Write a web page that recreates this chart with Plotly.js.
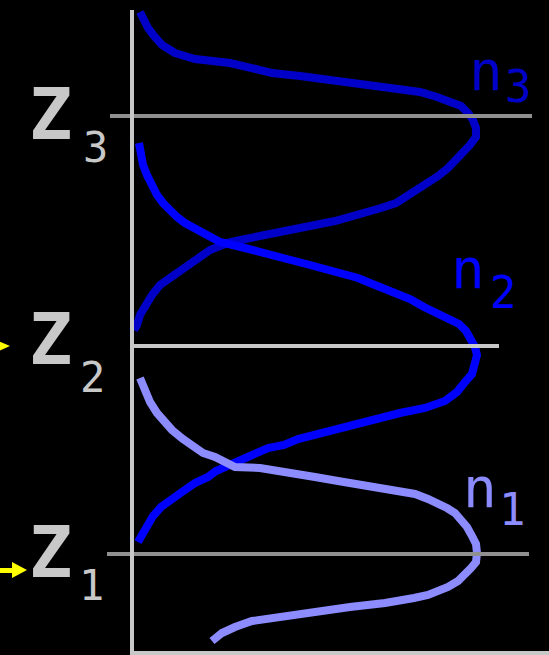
<!DOCTYPE html>
<html>
<head>
<meta charset="utf-8">
<script src="https://cdn.plot.ly/plotly-3.0.1.min.js"></script>
<style>
  html, body { margin: 0; padding: 0; background: #000; }
  #plotArea { width: 549px; height: 655px; }
</style>
</head>
<body>
<div id="plotArea"></div>
<script>
// level positions (z) of the three lines
var zLevels = [116, 346, 554];
var zNames = ["3", "2", "1"];

// n3 curve (around Z3)
var n3X = [140,143,148,154,162,175,195,230,255,272,300,330,365,400,420,437,450,461,468,473,476,476,470,464,457,448,438,427,417,407,396,381,365,350,335,315,290,270,250,230,210,198,185,172,160,152,145,140,137,134];
var n3Z = [12,20,28,36,45,53,59,63,68,73,76,80,84,88,92,97,101,106,113,120,128,137,145,152,160,168,176,183,190,197,203,208,213,217,221,225,230,234,237,242,250,258,266,275,285,295,305,315,325,330];

// n2 curve (around Z2)
var n2X = [139,141,143,147,151,157,163,170,177,185,195,205,220,245,268,283,310,337,358,375,392,410,424,438,450,459,466,471,475,477,474,472,465,457,445,425,400,385,365,345,330,313,298,284,268,250,237,225,216,208,195,182,170,161,153,147,142,138];
var n2Z = [143,155,165,175,185,195,203,211,217,223,229,235,242,248,253,258,265,272,278,285,291,299,307,313,319,324,331,339,347,355,365,374,382,392,401,408,413,417,422,427,431,435,439,445,448,456,461,466,471,477,483,492,501,507,516,525,533,542];

// n1 curve (around Z1)
var n1X = [140,144,150,157,164,172,183,193,203,215,235,260,285,315,338,370,400,415,428,438,447,455,461,467,472,476,477,476,471,465,458,448,428,414,385,350,312,282,268,252,235,222,212];
var n1Z = [378,390,402,413,421,430,439,447,453,457,467,468,473,477,481,486,490,494,499,503,508,513,519,527,536,544,553,562,568,575,581,587,595,598,603,607,612,616,617,621,627,633,641];

var curveColors = ["#0000c8", "#0000ff", "#8c8cff"];

function curve(xs, zs, color) {
    return {
        x: xs,
        y: zs,
        mode: 'lines',
        type: 'scatter',
        line: {color: color, width: 8, shape: 'linear'},
        hoverinfo: 'skip',
        showlegend: false
    };
}

var traces = [
    curve(n3X, n3Z, curveColors[0]),
    curve(n2X, n2Z, curveColors[1]),
    curve(n1X, n1Z, curveColors[2])
];

// horizontal level lines
var lineStyles = [
    {x0: 110, x1: 532, color: "#909090"},
    {x0: 131, x1: 499, color: "#c8c8c8"},
    {x0: 107, x1: 529, color: "#909090"}
];
var shapes = zLevels.map(function(z, i) {
    return {type: 'line', xref: 'x', yref: 'y', x0: lineStyles[i].x0, x1: lineStyles[i].x1,
            y0: z, y1: z, line: {color: lineStyles[i].color, width: 4}};
});
// vertical axis and bottom line
shapes.push({type: 'line', xref: 'x', yref: 'y', x0: 132, x1: 132, y0: 10, y1: 655,
             line: {color: "#c8c8c8", width: 4}});
shapes.push({type: 'line', xref: 'x', yref: 'y', x0: 131, x1: 549, y0: 653, y1: 653,
             line: {color: "#c8c8c8", width: 4}});
// yellow arrows at Z2 and Z1
shapes.push({type: 'path', xref: 'x', yref: 'y', path: 'M -6 339 L 10 346 L -6 353 Z',
             fillcolor: "#ffff00", line: {width: 0}});
shapes.push({type: 'path', xref: 'x', yref: 'y', path: 'M 0 568 L 12 568 L 12 562 L 27 570 L 12 578 L 12 573 L 0 573 Z',
             fillcolor: "#ffff00", line: {width: 0}});

var grey = "#c8c8c8";
var annotations = [];
zLevels.forEach(function(z, i) {
    var zTop = [88, 313, 526][i];
    annotations.push({x: 50, y: zTop + 26, xref: 'x', yref: 'y', text: '<b>Z</b>', showarrow: false,
        xanchor: 'center', yanchor: 'middle',
        font: {family: 'DejaVu Sans Mono', size: 72, color: grey}});
});
var subX = [95, 92, 91];
var subY = [147, 377, 585];
zNames.forEach(function(s, i) {
    annotations.push({x: subX[i], y: subY[i], xref: 'x', yref: 'y', text: s, showarrow: false,
        xanchor: 'center', yanchor: 'middle',
        font: {family: 'DejaVu Sans Mono', size: 42, color: grey}});
});

// n labels
var nLabels = [
    {x: 486, y: 70, sx: 518, sy: 86, sub: "3", color: curveColors[0]},
    {x: 468, y: 268, sx: 503, sy: 292, sub: "2", color: curveColors[1]},
    {x: 480, y: 487, sx: 512, sy: 509, sub: "1", color: curveColors[2]}
];
nLabels.forEach(function(l) {
    annotations.push({x: l.x, y: l.y, xref: 'x', yref: 'y', text: 'n', showarrow: false,
        xanchor: 'center', yanchor: 'middle',
        font: {family: 'DejaVu Sans Mono', size: 56, color: l.color}});
    annotations.push({x: l.sx, y: l.sy, xref: 'x', yref: 'y', text: l.sub, showarrow: false,
        xanchor: 'center', yanchor: 'middle',
        font: {family: 'DejaVu Sans Mono', size: 44, color: l.color}});
});

var layout = {
    width: 549,
    height: 655,
    margin: {l: 0, r: 0, t: 0, b: 0, pad: 0},
    paper_bgcolor: "#000000",
    plot_bgcolor: "#000000",
    xaxis: {range: [0, 549], visible: false, fixedrange: true},
    yaxis: {range: [655, 0], visible: false, fixedrange: true},
    shapes: shapes,
    annotations: annotations,
    showlegend: false
};

Plotly.newPlot("plotArea", traces, layout, {displayModeBar: false, staticPlot: true});
</script>
</body>
</html>
